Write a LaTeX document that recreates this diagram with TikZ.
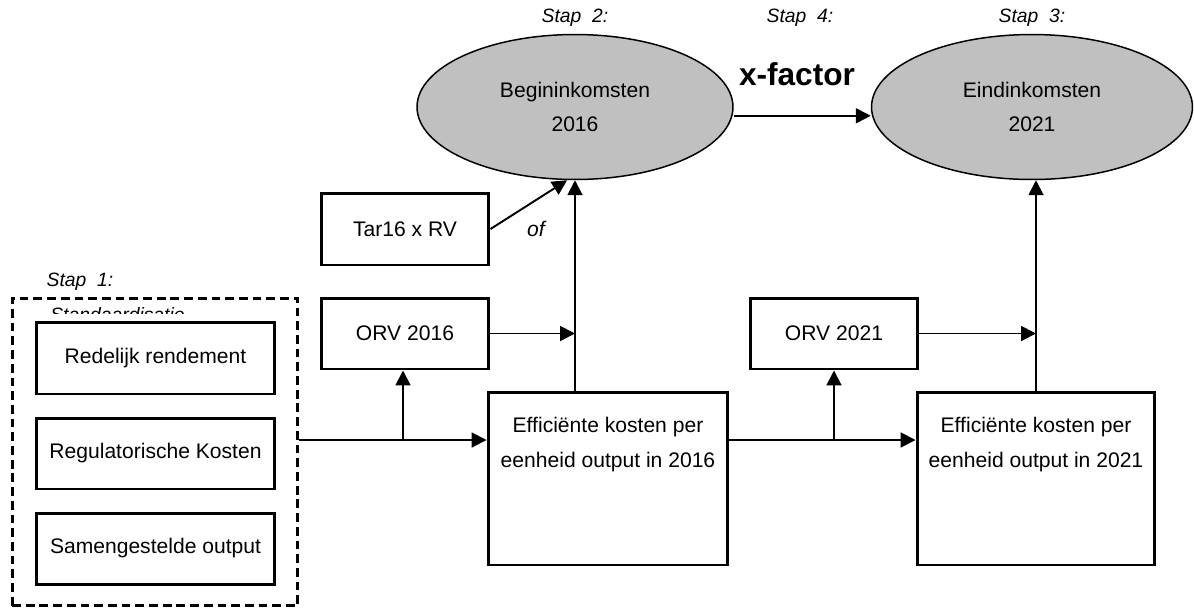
\documentclass[tikz,border=0pt]{standalone}
\usepackage{fontspec}
\setmainfont{Liberation Sans}
\usetikzlibrary{shapes.geometric,arrows.meta,calc}
\tikzset{
  box/.style={draw, line width=1.7pt, inner sep=0pt, font=\fontsize{12}{19.8}\selectfont, align=center},
  oval/.style={ellipse, draw, line width=0.85pt, fill={rgb,255:red,192;green,192;blue,192}, inner sep=0pt, font=\fontsize{12}{19.8}\selectfont, align=center},
  arr/.style={line width=1.1pt, -{Triangle[length=8.5pt,width=8.5pt]}},
  conn/.style={line width=1.1pt},
  stap/.style={font=\fontsize{11}{13}\selectfont\itshape},
  txt/.style={font=\fontsize{12}{19.8}\selectfont, align=center},
  dashbox/.style={draw, line width=1.7pt, dash pattern=on 5pt off 2.8pt, inner sep=0pt}
}
\begin{document}
\begin{tikzpicture}[x=0.02cm,y=-0.02cm]
\useasboundingbox (0,0) rectangle (1194,610);
% ellipses
\node[oval, minimum width=6.32cm, minimum height=2.9cm] (e1) at (575,107) {Begininkomsten\\2016};
\node[oval, minimum width=6.42cm, minimum height=2.9cm] (e2) at (1032,107) {Eindinkomsten\\2021};
\node[stap] (s2) at (575,18) {Stap\ \ 2:};
\node[stap] (s4) at (800,18) {Stap\ \ 4:};
\node[stap] (s3) at (1032,18) {Stap\ \ 3:};
\node[font=\fontsize{18}{20}\selectfont\bfseries] (xf) at (797,74) {x-factor};
% left group
\node[dashbox, minimum width=5.72cm, minimum height=6.16cm] (std) at (155,452) {};
\node[stap] (s1) at (80,282) {Stap\ \ 1:};
\begin{scope}
\clip (40,299) rectangle (290,313);
\node[stap, anchor=base west, inner sep=0pt] (stdtxt) at (50,321) {Standaardisatie};
\end{scope}
\node[box, minimum width=4.78cm, minimum height=1.44cm] (rr) at (155.5,358) {Redelijk rendement};
\node[box, minimum width=4.78cm, minimum height=1.42cm] (rk) at (155.5,453.5) {Regulatorische Kosten};
\node[box, minimum width=4.78cm, minimum height=1.42cm] (so) at (155.5,548.5) {Samengestelde output};
% middle
\node[box, minimum width=3.36cm, minimum height=1.44cm] (tar) at (405,229) {Tar16 x RV};
\node[box, minimum width=3.36cm, minimum height=1.42cm] (orv1) at (405,333.5) {ORV 2016};
\node[box, minimum width=4.8cm, minimum height=3.46cm] (eff1) at (608,478.5) {};
\node[txt] (eff1t) at (608,444.5) {Efficiënte kosten per\\eenheid output in 2016};
\node[font=\fontsize{12}{14}\selectfont\itshape] (of) at (536,229) {of};
% right
\node[box, minimum width=3.36cm, minimum height=1.42cm] (orv2) at (834,333.5) {ORV 2021};
\node[box, minimum width=4.76cm, minimum height=3.46cm] (eff2) at (1036,478.5) {};
\node[txt] (eff2t) at (1036,444.5) {Efficiënte kosten per\\eenheid output in 2021};
% connectors
\coordinate (j1) at (403,440);
\coordinate (j2) at (834,440);
\draw[arr] (std.east |- j1) -- (eff1.west |- j1);
\draw[arr] (j1) -- (j1 |- orv1.south);
\draw[arr] (eff1.east |- j2) -- (eff2.west |- j2);
\draw[arr] (j2) -- (orv2.south);
\draw[arr] (eff1.north -| e1.south) -- (e1.south);
\draw[arr] (tar.east) -- ([xshift=-4.5pt]e1.south);
\draw[arr] (orv1.east) -- (orv1.east -| e1.south);
\draw[arr] (eff2.north) -- (eff2.north |- e2.south);
\draw[arr] (orv2.east) -- (orv2.east -| eff2.north);
\draw[arr] ([yshift=-5pt]e1.east) -- ([yshift=-5pt]e2.west);
\end{tikzpicture}
\end{document}
